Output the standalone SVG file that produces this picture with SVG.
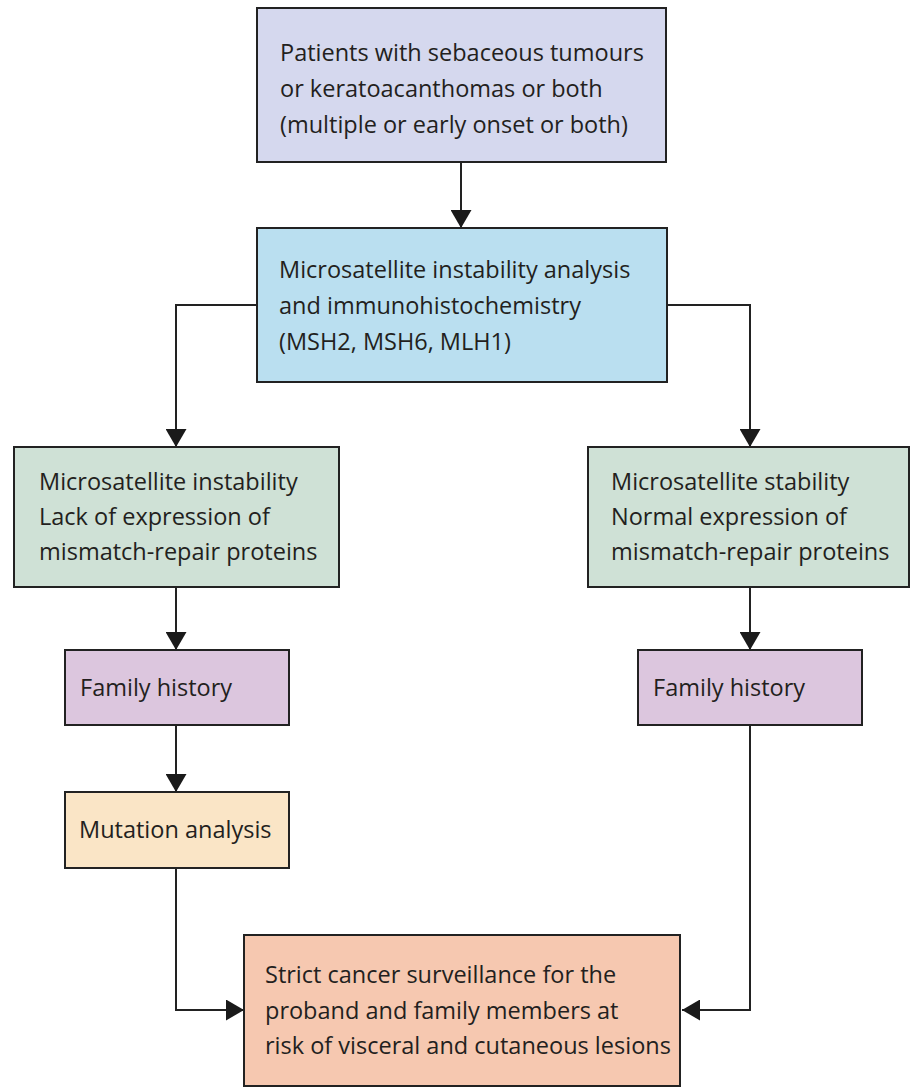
<svg xmlns="http://www.w3.org/2000/svg" width="911" height="1088" viewBox="0 0 911 1088">
<defs>
<style>
.box{stroke:#222;stroke-width:2}
.t{font-family:"Open Sans","Noto Sans",sans-serif;font-size:23.5px;fill:#231f20}
.c{fill:none;stroke:#222;stroke-width:2}
</style>
<marker id="ah" markerUnits="userSpaceOnUse" markerWidth="20" markerHeight="21" viewBox="0 0 18 21" refX="18" refY="10.5" orient="auto">
<path d="M0,0 L18,10.5 L0,21 Z" fill="#1a1a1a"/>
</marker>
</defs>
<rect width="911" height="1088" fill="#fff"/>
<g id="connectors">
<path class="c" d="M461,162 V228" marker-end="url(#ah)"/>
<path class="c" d="M257,305 H176 V447" marker-end="url(#ah)"/>
<path class="c" d="M667,305 H750 V447" marker-end="url(#ah)"/>
<path class="c" d="M176,587 V650" marker-end="url(#ah)"/>
<path class="c" d="M750,587 V650" marker-end="url(#ah)"/>
<path class="c" d="M176,725 V792" marker-end="url(#ah)"/>
<path class="c" d="M176,868 V1010 H244" marker-end="url(#ah)"/>
<path class="c" d="M750,725 V1010 H682" marker-end="url(#ah)"/>
</g>
<g id="n1">
<rect class="box" x="257" y="8" width="409" height="154" fill="#d5d8ee"/>
<text class="t" x="280" y="61">Patients with sebaceous tumours</text>
<text class="t" x="280" y="97">or keratoacanthomas or both</text>
<text class="t" x="280" y="133">(multiple or early onset or both)</text>
</g>
<g id="n2">
<rect class="box" x="257" y="228" width="410" height="154" fill="#badff0"/>
<text class="t" x="279" y="278">Microsatellite instability analysis</text>
<text class="t" x="279" y="314">and immunohistochemistry</text>
<text class="t" x="279" y="350">(MSH2, MSH6, MLH1)</text>
</g>
<g id="n3">
<rect class="box" x="14" y="447" width="325" height="140" fill="#cfe1d6"/>
<text class="t" x="39" y="490">Microsatellite instability</text>
<text class="t" x="39" y="525">Lack of expression of</text>
<text class="t" x="39" y="560">mismatch-repair proteins</text>
</g>
<g id="n4">
<rect class="box" x="588" y="447" width="321" height="140" fill="#cfe1d6"/>
<text class="t" x="611" y="490">Microsatellite stability</text>
<text class="t" x="611" y="525">Normal expression of</text>
<text class="t" x="611" y="560">mismatch-repair proteins</text>
</g>
<g id="n5">
<rect class="box" x="65" y="650" width="224" height="75" fill="#dcc6de"/>
<text class="t" x="80" y="696">Family history</text>
</g>
<g id="n6">
<rect class="box" x="638" y="650" width="224" height="75" fill="#dcc6de"/>
<text class="t" x="653" y="696">Family history</text>
</g>
<g id="n7">
<rect class="box" x="65" y="792" width="224" height="76" fill="#fae5c6"/>
<text class="t" x="79" y="838">Mutation analysis</text>
</g>
<g id="n8">
<rect class="box" x="244" y="935" width="436" height="151" fill="#f6c8b0"/>
<text class="t" x="265" y="983">Strict cancer surveillance for the</text>
<text class="t" x="265" y="1019">proband and family members at</text>
<text class="t" x="265" y="1054">risk of visceral and cutaneous lesions</text>
</g>
</svg>
